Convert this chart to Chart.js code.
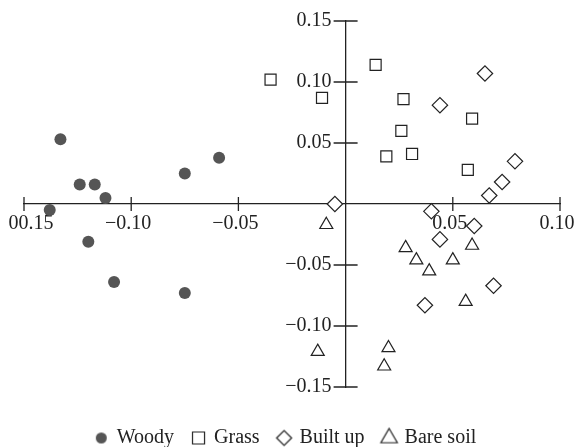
<!DOCTYPE html>
<html>
<head>
<meta charset="utf-8">
<script src="https://cdn.jsdelivr.net/npm/chart.js@4.4.0/dist/chart.umd.min.js"></script>
<style>
  html, body { margin: 0; padding: 0; background: #fff; }
</style>
</head>
<body>
<canvas id="scatter" width="576" height="447"></canvas>
<script>
// values
var woodyX = [-0.133, -0.124, -0.117, -0.112, -0.138, -0.075, -0.059, -0.120, -0.108, -0.075];
var woodyY = [0.053, 0.016, 0.016, 0.005, -0.005, 0.025, 0.038, -0.031, -0.064, -0.073];

var grassX = [-0.035, -0.011, 0.014, 0.027, 0.026, 0.019, 0.031, 0.059, 0.057];
var grassY = [0.102, 0.087, 0.114, 0.086, 0.060, 0.039, 0.041, 0.070, 0.028];

var builtX = [0.065, 0.044, 0.079, 0.073, 0.067, -0.005, 0.040, 0.060, 0.044, 0.069, 0.037];
var builtY = [0.107, 0.081, 0.035, 0.018, 0.007, 0.000, -0.006, -0.018, -0.029, -0.067, -0.083];

var bareX = [-0.009, 0.028, 0.033, 0.039, 0.050, 0.059, 0.056, -0.013, 0.020, 0.018];
var bareY = [-0.017, -0.036, -0.046, -0.055, -0.046, -0.034, -0.080, -0.121, -0.118, -0.133];

var seriesNames = ["Woody", "Grass", "Built up", "Bare soil"];
// the first label sits right of its tick in the original, hence the leading spaces
var xTickLabels = ["\u2002\u200200.15", "\u22120.10", "\u22120.05", "", "0.05", "0.10"];
var yTickLabels = ["\u22120.15", "\u22120.10", "\u22120.05", "", "0.05", "0.10", "0.15"];

var ink = '#222';
var FONT = "'Liberation Serif', 'Times New Roman', serif";

function toPoints(xs, ys) {
    var pts = [];
    for (let i = 0; i < xs.length; i++) {
        pts.push({x: xs[i], y: ys[i]});
    }
    return pts;
}

// little canvases for the legend markers (sizes differ per style in the original)
function legendMarker(style, radius, fill) {
    var c = document.createElement('canvas');
    var s = Math.ceil(radius * 2 + 4);
    c.width = s; c.height = s;
    var g = c.getContext('2d');
    g.fillStyle = fill;
    g.strokeStyle = ink;
    g.lineWidth = 1.2;
    Chart.helpers.drawPoint(g, {pointStyle: style, radius: radius, rotation: 0, borderWidth: fill === '#fff' ? 1.2 : 0}, s / 2, s / 2);
    return c;
}

var legendMarkers = [
    legendMarker('circle', 5.5, '#555'),
    legendMarker('rect', 8.5, '#fff'),
    legendMarker('rectRot', 7.5, '#fff'),
    legendMarker('triangle', 9.5, '#fff')
];

// axis ticks cross the axis lines
var tickMarks = {
    id: 'tickMarks',
    afterLayout: function(chart) {
        // legend sits a little left of centre in the original
        if (chart.legend) {
            chart.legend.left -= 6;
            chart.legend.right -= 6;
        }
    },
    beforeDatasetsDraw: function(chart) {
        var ctx = chart.ctx;
        var xs = chart.scales.x, ys = chart.scales.y;
        var x0 = xs.getPixelForValue(0);
        var y0 = ys.getPixelForValue(0);
        ctx.save();
        ctx.strokeStyle = ink;
        ctx.lineWidth = 1.3;
        ctx.beginPath();
        xs.ticks.forEach(function(t) {
            if (Math.abs(t.value) < 1e-9) return;
            var px = xs.getPixelForValue(t.value);
            ctx.moveTo(px, y0 - 7);
            ctx.lineTo(px, y0 + 7);
        });
        ys.ticks.forEach(function(t) {
            if (Math.abs(t.value) < 1e-9) return;
            var py = ys.getPixelForValue(t.value);
            ctx.moveTo(x0 - 12, py);
            ctx.lineTo(x0 + 12, py);
        });
        ctx.stroke();
        ctx.restore();
    }
};

function noSpace(scale) {
    scale.width = scale.isHorizontal() ? scale.width : 0;
    scale.height = scale.isHorizontal() ? 0 : scale.height;
    scale.paddingLeft = 0;
    scale.paddingRight = 0;
    scale.paddingTop = 0;
    scale.paddingBottom = 0;
}

var chartdata = {
    datasets: [
        {
            label: seriesNames[0],
            data: toPoints(woodyX, woodyY),
            pointStyle: 'circle',
            pointRadius: 6,
            backgroundColor: '#555',
            borderColor: '#555',
            borderWidth: 0
        },
        {
            label: seriesNames[1],
            data: toPoints(grassX, grassY),
            pointStyle: 'rect',
            pointRadius: 7.8,
            backgroundColor: '#fff',
            borderColor: ink,
            borderWidth: 1.2
        },
        {
            label: seriesNames[2],
            data: toPoints(builtX, builtY),
            pointStyle: 'rectRot',
            pointRadius: 7.7,
            backgroundColor: '#fff',
            borderColor: ink,
            borderWidth: 1.2
        },
        {
            label: seriesNames[3],
            data: toPoints(bareX, bareY),
            pointStyle: 'triangle',
            pointRadius: 7.5,
            backgroundColor: '#fff',
            borderColor: ink,
            borderWidth: 1.2
        }
    ]
};

new Chart(document.getElementById('scatter'), {
    type: 'scatter',
    data: chartdata,
    plugins: [tickMarks],
    options: {
        responsive: false,
        animation: false,
        devicePixelRatio: 1,
        layout: {
            padding: {left: 24, right: 16, top: 21, bottom: -11}
        },
        scales: {
            x: {
                type: 'linear',
                position: {y: 0},
                min: -0.15,
                max: 0.10,
                afterFit: noSpace,
                grid: {display: false, drawTicks: false},
                border: {display: true, color: ink, width: 1.3},
                ticks: {
                    stepSize: 0.05,
                    padding: 8,
                    labelOffset: -3,
                    color: ink,
                    maxRotation: 0,
                    autoSkip: false,
                    font: {family: FONT, size: 20},
                    callback: function(value, index) { return xTickLabels[index]; }
                }
            },
            y: {
                type: 'linear',
                position: {x: 0},
                min: -0.15,
                max: 0.15,
                afterFit: noSpace,
                grid: {display: false, drawTicks: false},
                border: {display: true, color: ink, width: 1.3},
                ticks: {display: false, stepSize: 0.05}
            },
            // second copy of the y scale, set a little left of the axis, only for its labels
            yLabels: {
                type: 'linear',
                axis: 'y',
                position: {x: -0.0066},
                min: -0.15,
                max: 0.15,
                afterFit: noSpace,
                grid: {display: false, drawTicks: false},
                border: {display: false},
                ticks: {
                    stepSize: 0.05,
                    color: ink,
                    autoSkip: false,
                    font: {family: FONT, size: 20},
                    callback: function(value, index) { return yTickLabels[index]; }
                }
            }
        },
        plugins: {
            tooltip: {enabled: false},
            legend: {
                position: 'bottom',
                title: {display: true, text: ' ', padding: 0, font: {size: 10, lineHeight: '22px'}},
                labels: {
                    usePointStyle: true,
                    boxWidth: 11,
                    boxHeight: 11,
                    padding: 19,
                    color: ink,
                    font: {family: FONT, size: 20},
                    generateLabels: function(chart) {
                        var items = Chart.defaults.plugins.legend.labels.generateLabels(chart);
                        items.forEach(function(it, i) { it.pointStyle = legendMarkers[i]; });
                        return items;
                    }
                }
            }
        }
    }
});
</script>
</body>
</html>
